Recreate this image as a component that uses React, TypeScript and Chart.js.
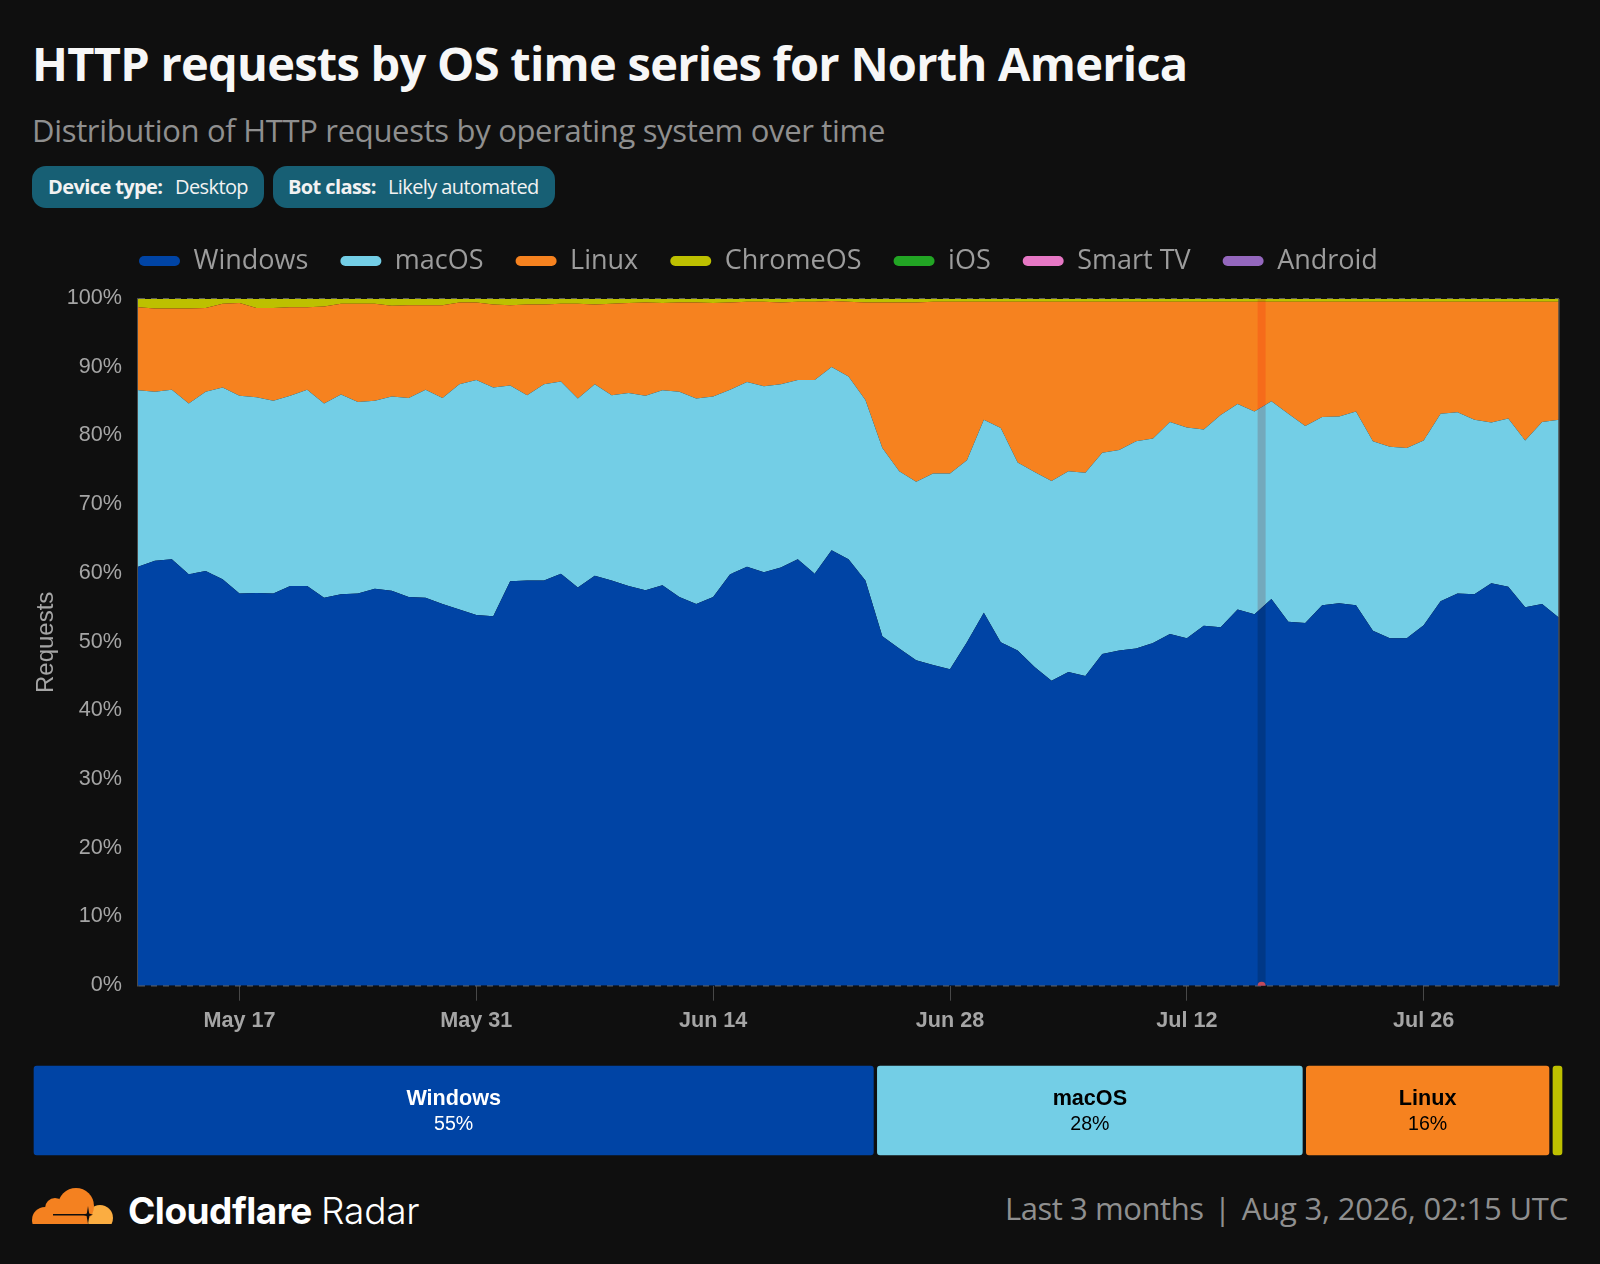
import React, { useEffect, useRef } from 'react'
import { Chart, registerables } from 'chart.js'

Chart.register(...registerables)

const BG = '#0F0F0F'

const days = [
  'May 11', 'May 12', 'May 13', 'May 14', 'May 15', 'May 16', 'May 17', 'May 18', 'May 19', 'May 20', 'May 21', 'May 22', 'May 23', 'May 24', 'May 25', 'May 26', 'May 27', 'May 28', 'May 29', 'May 30', 'May 31',
  'Jun 1', 'Jun 2', 'Jun 3', 'Jun 4', 'Jun 5', 'Jun 6', 'Jun 7', 'Jun 8', 'Jun 9', 'Jun 10', 'Jun 11', 'Jun 12', 'Jun 13', 'Jun 14', 'Jun 15', 'Jun 16', 'Jun 17', 'Jun 18', 'Jun 19', 'Jun 20', 'Jun 21', 'Jun 22', 'Jun 23', 'Jun 24', 'Jun 25', 'Jun 26', 'Jun 27', 'Jun 28', 'Jun 29', 'Jun 30',
  'Jul 1', 'Jul 2', 'Jul 3', 'Jul 4', 'Jul 5', 'Jul 6', 'Jul 7', 'Jul 8', 'Jul 9', 'Jul 10', 'Jul 11', 'Jul 12', 'Jul 13', 'Jul 14', 'Jul 15', 'Jul 16', 'Jul 17', 'Jul 18', 'Jul 19', 'Jul 20', 'Jul 21', 'Jul 22', 'Jul 23', 'Jul 24', 'Jul 25', 'Jul 26', 'Jul 27', 'Jul 28', 'Jul 29', 'Jul 30', 'Jul 31',
  'Aug 1', 'Aug 2', 'Aug 3',
]
const shownDays = ['May 17', 'May 31', 'Jun 14', 'Jun 28', 'Jul 12', 'Jul 26']

const windows = [
  61.0, 61.9, 62.1, 59.9, 60.4, 59.2, 57.1, 57.2, 57.1, 58.2, 58.2, 56.5, 57.0, 57.1, 57.8, 57.5, 56.6, 56.5, 55.6, 54.8, 54.0,
  53.8, 58.9, 59.0, 59.0, 60.0, 58.0, 59.7, 59.0, 58.2, 57.6, 58.3, 56.6, 55.6, 56.6, 59.9, 61.0, 60.2, 60.9, 62.1, 60.0, 63.4,
  62.1, 59.0, 50.9, 49.1, 47.4, 46.7, 46.1, 50.0, 54.3, 50.0, 48.8, 46.4, 44.4, 45.7, 45.1, 48.3, 48.8, 49.1, 49.9, 51.2, 50.6,
  52.4, 52.2, 54.8, 54.1, 56.3, 53.0, 52.8, 55.4, 55.7, 55.4, 51.7, 50.6, 50.6, 52.5, 56.0, 57.1, 57.0, 58.6, 58.1, 55.1, 55.6, 53.6,
]
const macos = [
  25.7, 24.6, 24.7, 24.9, 26.1, 27.9, 28.8, 28.5, 28.1, 27.7, 28.6, 28.3, 29.1, 27.9, 27.4, 28.3, 29.0, 30.3, 30.0, 32.8, 34.2,
  33.3, 28.5, 27.0, 28.6, 28.0, 27.5, 27.9, 27.0, 28.1, 28.3, 28.4, 29.9, 29.9, 29.2, 26.9, 26.9, 27.1, 26.7, 26.1, 28.2, 26.7,
  26.6, 26.3, 27.4, 25.8, 26.0, 27.9, 28.5, 26.5, 28.1, 31.2, 27.4, 28.4, 29.1, 29.2, 29.6, 29.3, 29.2, 30.2, 29.8, 30.9, 30.7,
  28.6, 30.9, 29.9, 29.5, 28.8, 30.3, 28.7, 27.4, 27.2, 28.2, 27.6, 27.9, 27.7, 26.9, 27.3, 26.4, 25.4, 23.4, 24.5, 24.3, 26.5, 28.8,
]
const linux = [
  12.1, 12.1, 11.8, 13.8, 12.2, 12.2, 13.5, 13.0, 13.5, 12.9, 12.0, 14.1, 13.2, 14.3, 14.1, 13.2, 13.5, 12.3, 13.5, 11.9, 11.3,
  12.1, 11.7, 13.2, 11.6, 11.3, 13.8, 11.6, 13.3, 13.1, 13.6, 12.7, 13.0, 14.0, 13.6, 12.7, 11.7, 12.3, 11.9, 11.4, 11.4, 9.6,
  10.9, 14.2, 21.2, 24.6, 26.1, 25.0, 25.0, 23.1, 17.2, 18.4, 23.4, 24.8, 26.1, 24.7, 24.9, 22.0, 21.6, 20.3, 19.9, 17.5, 18.3,
  18.6, 16.5, 14.9, 16.0, 14.5, 16.3, 18.1, 16.8, 16.7, 16.0, 20.3, 21.1, 21.3, 20.2, 16.3, 16.1, 17.2, 17.6, 17.0, 20.2, 17.5, 17.2,
]
const chromeos = [
  1.2, 1.4, 1.4, 1.4, 1.3, 0.7, 0.6, 1.3, 1.3, 1.2, 1.2, 1.1, 0.7, 0.7, 0.7, 1.0, 0.9, 0.9, 0.9, 0.5, 0.5,
  0.8, 0.9, 0.8, 0.8, 0.7, 0.7, 0.8, 0.7, 0.6, 0.5, 0.6, 0.5, 0.5, 0.6, 0.5, 0.4, 0.4, 0.5, 0.4, 0.4, 0.3,
  0.4, 0.5, 0.5, 0.5, 0.5, 0.4, 0.4, 0.4, 0.4, 0.4, 0.4, 0.4, 0.4, 0.4, 0.4, 0.4, 0.4, 0.4, 0.4, 0.4, 0.4,
  0.4, 0.4, 0.4, 0.4, 0.4, 0.4, 0.4, 0.4, 0.4, 0.4, 0.4, 0.4, 0.4, 0.4, 0.4, 0.4, 0.4, 0.4, 0.4, 0.4, 0.4, 0.4,
]
const ios = [
  0.02, 0.02, 0.02, 0.02, 0.02, 0.02, 0.02, 0.02, 0.02, 0.02, 0.02, 0.02, 0.02, 0.02, 0.02, 0.02, 0.02, 0.02, 0.02, 0.02, 0.02,
  0.02, 0.02, 0.02, 0.02, 0.02, 0.02, 0.02, 0.02, 0.02, 0.02, 0.02, 0.02, 0.02, 0.02, 0.02, 0.02, 0.02, 0.02, 0.02, 0.02, 0.02,
  0.02, 0.02, 0.02, 0.02, 0.02, 0.02, 0.02, 0.02, 0.02, 0.02, 0.02, 0.02, 0.02, 0.02, 0.02, 0.02, 0.02, 0.02, 0.02, 0.02, 0.02,
  0.02, 0.02, 0.02, 0.02, 0.02, 0.02, 0.02, 0.02, 0.02, 0.02, 0.02, 0.02, 0.02, 0.02, 0.02, 0.02, 0.02, 0.02, 0.02, 0.02, 0.02, 0.02,
]
const smartTv = [
  0.01, 0.01, 0.01, 0.01, 0.01, 0.01, 0.01, 0.01, 0.01, 0.01, 0.01, 0.01, 0.01, 0.01, 0.01, 0.01, 0.01, 0.01, 0.01, 0.01, 0.01,
  0.01, 0.01, 0.01, 0.01, 0.01, 0.01, 0.01, 0.01, 0.01, 0.01, 0.01, 0.01, 0.01, 0.01, 0.01, 0.01, 0.01, 0.01, 0.01, 0.01, 0.01,
  0.01, 0.01, 0.01, 0.01, 0.01, 0.01, 0.01, 0.01, 0.01, 0.01, 0.01, 0.01, 0.01, 0.01, 0.01, 0.01, 0.01, 0.01, 0.01, 0.01, 0.01,
  0.01, 0.01, 0.01, 0.01, 0.01, 0.01, 0.01, 0.01, 0.01, 0.01, 0.01, 0.01, 0.01, 0.01, 0.01, 0.01, 0.01, 0.01, 0.01, 0.01, 0.01, 0.01,
]
const android = [
  0.01, 0.01, 0.01, 0.01, 0.01, 0.01, 0.01, 0.01, 0.01, 0.01, 0.01, 0.01, 0.01, 0.01, 0.01, 0.01, 0.01, 0.01, 0.01, 0.01, 0.01,
  0.01, 0.01, 0.01, 0.01, 0.01, 0.01, 0.01, 0.01, 0.01, 0.01, 0.01, 0.01, 0.01, 0.01, 0.01, 0.01, 0.01, 0.01, 0.01, 0.01, 0.01,
  0.01, 0.01, 0.01, 0.01, 0.01, 0.01, 0.01, 0.01, 0.01, 0.01, 0.01, 0.01, 0.01, 0.01, 0.01, 0.01, 0.01, 0.01, 0.01, 0.01, 0.01,
  0.01, 0.01, 0.01, 0.01, 0.01, 0.01, 0.01, 0.01, 0.01, 0.01, 0.01, 0.01, 0.01, 0.01, 0.01, 0.01, 0.01, 0.01, 0.01, 0.01, 0.01, 0.01,
]

const seriesNames = ['Windows', 'macOS', 'Linux', 'ChromeOS', 'iOS', 'Smart TV', 'Android']
const seriesColors = ['#0044A5', '#73CEE6', '#F6821F', '#BDC000', '#22A524', '#E677C4', '#9467BD']
const seriesValues = [windows, macos, linux, chromeos, ios, smartTv, android]

const summaryNames = ['Windows', 'macOS', 'Linux', 'ChromeOS']
const summaryValues = [55.05, 28.0, 16.1, 0.85]
const summaryText = ['55%', '28%', '16%', '']
const summaryInk = ['#ffffff', '#000000', '#000000', '#000000']

// where the mouse was when the picture was taken
const hoverIndex = 66.42

const crosshair = {
  id: 'crosshair',
  afterDatasetsDraw(chart: Chart) {
    const { ctx, chartArea: a } = chart
    const x = chart.scales.x.getPixelForValue(hoverIndex)
    ctx.save()
    ctx.globalCompositeOperation = 'multiply'
    ctx.fillStyle = 'rgba(255,0,0,0.18)'
    ctx.fillRect(x - 4, a.top, 8, a.bottom - a.top)
    ctx.restore()
    ctx.save()
    ctx.beginPath()
    ctx.rect(a.left, a.top, a.right - a.left, a.bottom - a.top)
    ctx.clip()
    ctx.fillStyle = '#C04A5C'
    ctx.beginPath()
    ctx.arc(x, a.bottom, 4, 0, Math.PI * 2)
    ctx.fill()
    ctx.restore()
    ctx.strokeStyle = '#4a4a4a'
    ctx.lineWidth = 1.5
    ctx.beginPath()
    ctx.moveTo(a.right, a.top)
    ctx.lineTo(a.right, a.bottom)
    ctx.stroke()
  },
}

// chart.js has no way to inset a left aligned legend or to cap its height
const legendBox = {
  id: 'legendBox',
  beforeInit(chart: any) {
    const fit = chart.legend.fit
    chart.legend.fit = function () {
      fit.call(this)
      this.height = 87
    }
  },
  afterLayout(chart: any) {
    chart.legend.left = 107
    chart.legend.top = 3.5
  },
}

const barText = {
  id: 'barText',
  afterDatasetsDraw(chart: Chart) {
    const { ctx } = chart
    ctx.save()
    ctx.textAlign = 'center'
    ctx.textBaseline = 'middle'
    summaryNames.forEach((name, i) => {
      if (!summaryText[i]) return
      const bar = chart.getDatasetMeta(i).data[0] as any
      const x = (bar.x + bar.base) / 2
      ctx.fillStyle = summaryInk[i]
      ctx.font = 'bold 21.6px "Liberation Sans", Arial, sans-serif'
      ctx.fillText(name, x, 35)
      ctx.font = '19.6px "Liberation Sans", Arial, sans-serif'
      ctx.fillText(summaryText[i], x, 61)
    })
    ctx.restore()
  },
}

function abs(left: number, top: number, extra: React.CSSProperties): React.CSSProperties {
  return { position: 'absolute', left, top, whiteSpace: 'nowrap', ...extra }
}

export default function App() {
  const areaRef = useRef<HTMLCanvasElement>(null)
  const barRef = useRef<HTMLCanvasElement>(null)

  useEffect(() => {
    document.body.style.margin = '0'
    document.body.style.background = BG
    const area = new Chart(areaRef.current!, {
      type: 'line',
      data: {
        labels: days,
        datasets: seriesNames.map((name, i) => ({
          label: name,
          data: seriesValues[i],
          backgroundColor: seriesColors[i],
          borderColor: seriesColors[i],
          borderWidth: 0,
          pointRadius: 0,
          tension: 0,
          fill: i === 0 ? 'origin' : '-1',
        })),
      },
      options: {
        responsive: false,
        animation: false,
        layout: { padding: { left: 0, right: 41, top: 0, bottom: 0 } },
        plugins: {
          tooltip: { enabled: false },
          legend: {
            position: 'top',
            align: 'start',
            labels: {
              color: '#9c9c9c',
              font: { family: '"Open Sans", sans-serif', size: 27 },
              boxWidth: 41,
              boxHeight: 10,
              padding: 32,
              useBorderRadius: true,
              borderRadius: 5,
            },
          },
        },
        scales: {
          x: {
            type: 'category',
            offset: false,
            afterBuildTicks: (s: any) => {
              s.ticks = s.ticks.filter((t: any) => shownDays.includes(days[t.value]))
            },
            afterFit: (s: any) => { s.height = 54.3 },
            ticks: {
              autoSkip: false,
              maxRotation: 0,
              padding: 7,
              color: '#a5a5a5',
              font: { family: '"Liberation Sans", Arial, sans-serif', size: 21.6, weight: 'bold' },
            },
            grid: { color: '#484848', tickLength: 15, drawOnChartArea: false },
            border: { display: false },
          },
          y: {
            stacked: true,
            min: 0,
            max: 100,
            afterFit: (s: any) => { s.width = 138 },
            ticks: {
              stepSize: 10,
              padding: 16,
              labelOffset: -0.8,
              color: '#a5a5a5',
              font: { family: '"Liberation Sans", Arial, sans-serif', size: 21.6 },
              callback: (v: any) => `${v}%`,
            },
            title: {
              display: true,
              text: 'Requests',
              color: '#a5a5a5',
              font: { family: '"Liberation Sans", Arial, sans-serif', size: 24 },
              padding: { top: 32, bottom: 0 },
            },
            grid: { color: '#5c5c5c', lineWidth: 1.5, drawTicks: false },
            border: { color: '#4a4a4a', width: 2, dash: [6, 6] },
          },
        },
      } as any,
      plugins: [crosshair, legendBox],
    })

    const bar = new Chart(barRef.current!, {
      type: 'bar',
      data: {
        labels: ['Requests'],
        datasets: summaryNames.map((name, i) => ({
          label: name,
          data: [summaryValues[i]],
          backgroundColor: seriesColors[i],
          borderColor: BG,
          borderWidth: 2,
          borderSkipped: false,
          borderRadius: { topLeft: 5, topRight: 5, bottomLeft: 5, bottomRight: 5 },
          barPercentage: 1,
          categoryPercentage: 1,
        })),
      },
      options: {
        indexAxis: 'y',
        responsive: false,
        animation: false,
        layout: { padding: { left: 32, right: 36, top: 0, bottom: 0 } },
        plugins: { legend: { display: false }, tooltip: { enabled: false } },
        scales: {
          x: { stacked: true, min: 0, max: 100, display: false },
          y: { stacked: true, display: false },
        },
      } as any,
      plugins: [barText],
    })

    return () => {
      area.destroy()
      bar.destroy()
    }
  }, [])

  const chip: React.CSSProperties = {
    position: 'absolute',
    top: 166,
    height: 42,
    background: '#175F74',
    borderRadius: 14,
  }
  const chipText: React.CSSProperties = {
    top: 172,
    fontSize: 20,
    lineHeight: '30px',
    color: '#f2f2f2',
    letterSpacing: -0.6,
  }
  const footText: React.CSSProperties = { fontSize: 31, lineHeight: '44px', color: '#8f8f8f' }

  return (
    <div style={{ position: 'relative', width: 1600, height: 1264, background: BG, overflow: 'hidden', fontFamily: '"Open Sans", sans-serif' }}>
      <div style={abs(32, 30, { fontSize: 47, lineHeight: '66px', fontWeight: 700, color: '#f7f7f7', letterSpacing: -0.74 })}>
        HTTP requests by OS time series for North America
      </div>
      <div style={abs(32, 108, { fontSize: 31, lineHeight: '44px', color: '#8f8f8f', letterSpacing: -0.32 })}>
        Distribution of HTTP requests by operating system over time
      </div>
      <div style={{ ...chip, left: 32, width: 232 }} />
      <div style={{ ...chip, left: 273, width: 282 }} />
      <div style={abs(48, 0, { ...chipText, fontWeight: 700 })}>Device type:</div>
      <div style={abs(175, 0, chipText)}>Desktop</div>
      <div style={abs(288, 0, { ...chipText, fontWeight: 700 })}>Bot class:</div>
      <div style={abs(388, 0, chipText)}>Likely automated</div>

      <canvas ref={areaRef} width={1600} height={828} style={{ position: 'absolute', left: 0, top: 212, display: 'block' }} />
      <canvas ref={barRef} width={1600} height={93} style={{ position: 'absolute', left: 0, top: 1064, display: 'block' }} />

      <svg width={84} height={40} viewBox="0 0 84 40" style={{ position: 'absolute', left: 30, top: 1186 }}>
        <defs>
          <clipPath id="cut"><rect x={0} y={0} width={84} height={38} /></clipPath>
        </defs>
        <g clipPath="url(#cut)">
          <circle cx={70} cy={32} r={13} fill="#FBAD41" />
          <circle cx={15} cy={34} r={13} fill="#F48120" />
          <circle cx={25} cy={22} r={10} fill="#F48120" />
          <circle cx={46} cy={20} r={18} fill="#F48120" />
          <rect x={12} y={24} width={46} height={14} fill="#F48120" />
          <rect x={23} y={28} width={34} height={1.5} fill={BG} />
          <path d="M58 20 L59.2 27.5 L63 28.7 L59.4 30 L58 38 L56.6 30 L53 28.7 L56.8 27.5 Z" fill={BG} />
        </g>
      </svg>
      <div style={abs(128, 1186, { fontFamily: 'Inter, sans-serif', fontSize: 37, lineHeight: '50px', fontWeight: 700, color: '#ffffff', letterSpacing: -0.5 })}>Cloudflare</div>
      <div style={abs(321, 1186, { fontFamily: 'Inter, sans-serif', fontSize: 37, lineHeight: '50px', fontWeight: 300, color: '#ffffff', letterSpacing: -0.2 })}>Radar</div>
      <div style={abs(1005, 1186, { ...footText, letterSpacing: -0.44 })}>Last 3 months</div>
      <div style={abs(1214, 1186, footText)}>|</div>
      <div style={{ ...footText, position: 'absolute', right: 32, top: 1186, whiteSpace: 'nowrap', letterSpacing: -0.2 }}>Aug 3, 2026, 02:15 UTC</div>
    </div>
  )
}
